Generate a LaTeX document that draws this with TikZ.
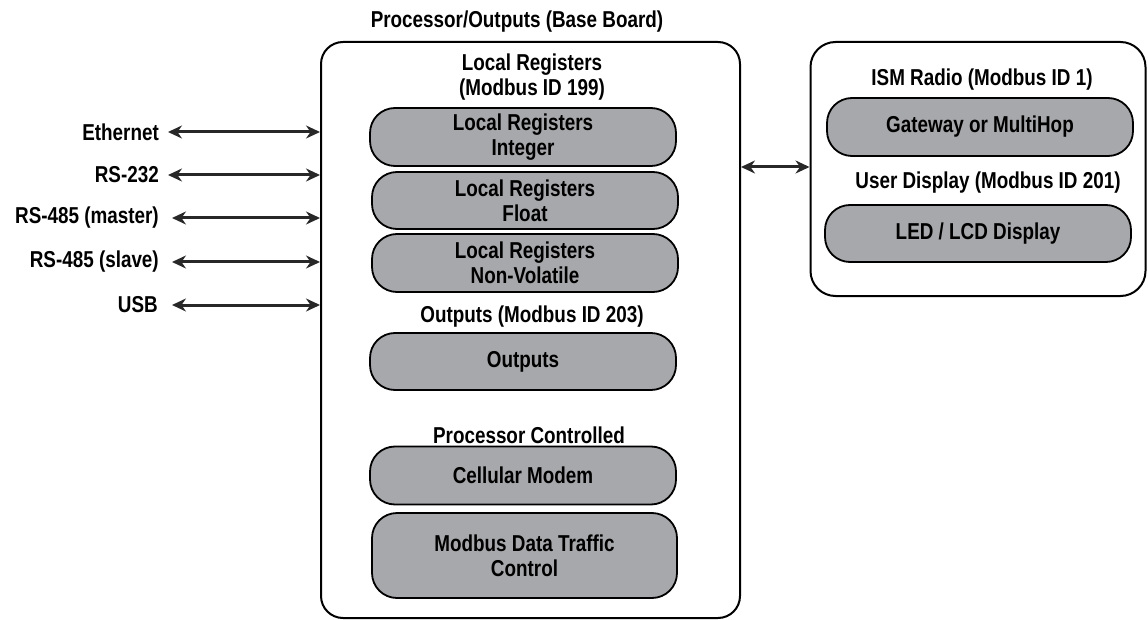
\documentclass[tikz,border=0pt]{standalone}
\usepackage{fontspec}
\setmainfont{Liberation Sans}[FakeStretch=0.82]
\usetikzlibrary{arrows.meta}
\definecolor{pillgray}{RGB}{167,168,171}
\definecolor{arrowdark}{RGB}{40,40,40}
\begin{document}
\begin{tikzpicture}[x=1pt,y=-1pt,
  every node/.style={font=\fontsize{23}{25}\selectfont\bfseries, align=center, inner sep=0pt},
  board/.style={draw=black, line width=2pt, rounded corners=22pt, fill=white},
  pill/.style={draw=black, line width=1.8pt, fill=pillgray, rounded corners=25pt, minimum width=306pt, minimum height=57pt},
  lbl/.style={anchor=east},
  dbl/.style={draw=arrowdark, line width=3pt, {Stealth[length=14pt,width=13pt]}-{Stealth[length=14pt,width=13pt]}}
]
\useasboundingbox (0,0) rectangle (1148,620);
% boards
\node[board, minimum width=419pt, minimum height=576pt] (main) at (530.5,330) {};
\node[board, rounded corners=25pt, minimum width=335pt, minimum height=254pt] (right) at (978,169) {};
% main board texts
\node (title) at (517,22) {Processor/Outputs (Base Board)};
\node (lrtitle) at (532,77) {Local Registers\\(Modbus ID 199)};
\node[pill, minimum height=58pt] (lri) at (523,137) {Local Registers\\Integer};
\node[pill] (lrf) at (525,200.5) {Local Registers\\Float};
\node[pill, minimum height=58pt] (lrn) at (525,263) {Local Registers\\Non-Volatile};
\node (outtitle) at (532,317) {Outputs (Modbus ID 203)};
\node[pill] (outs) at (523,361.5) {Outputs};
\node (pctitle) at (529,435) {Processor Controlled};
\node[pill, minimum height=58pt] (cell) at (523,475.5) {Cellular Modem};
\node[pill, minimum height=85pt, minimum width=305pt] (mdtc) at (524.5,555.5) {Modbus Data Traffic\\Control};
% right board
\node (ismtitle) at (982,80) {ISM Radio (Modbus ID 1)};
\node[pill, minimum height=58pt] (gw) at (980,127) {Gateway or MultiHop};
\node (udtitle) at (988,183) {User Display (Modbus ID 201)};
\node[pill] (led) at (978,233.5) {LED / LCD Display};
% left labels
\node[lbl] (eth) at (159,132) {Ethernet};
\node[lbl] (rs232) at (159,175) {RS-232};
\node[lbl] (rsm) at (159,218) {RS-485 (master)};
\node[lbl] (rss) at (159,262) {RS-485 (slave)};
\node[lbl] (usb) at (158,305) {USB};
% arrows
\coordinate (a1) at (168,132);
\coordinate (a2) at (168,175);
\coordinate (a3) at (172,218);
\coordinate (a4) at (172,262);
\coordinate (a5) at (172,305);
\foreach \c in {a1,a2,a3,a4,a5}{
  \draw[dbl] (\c) -- (\c -| main.west);
}
\coordinate (mid) at (740,167);
\draw[dbl] (main.east |- mid) -- (right.west |- mid);
\end{tikzpicture}
\end{document}
